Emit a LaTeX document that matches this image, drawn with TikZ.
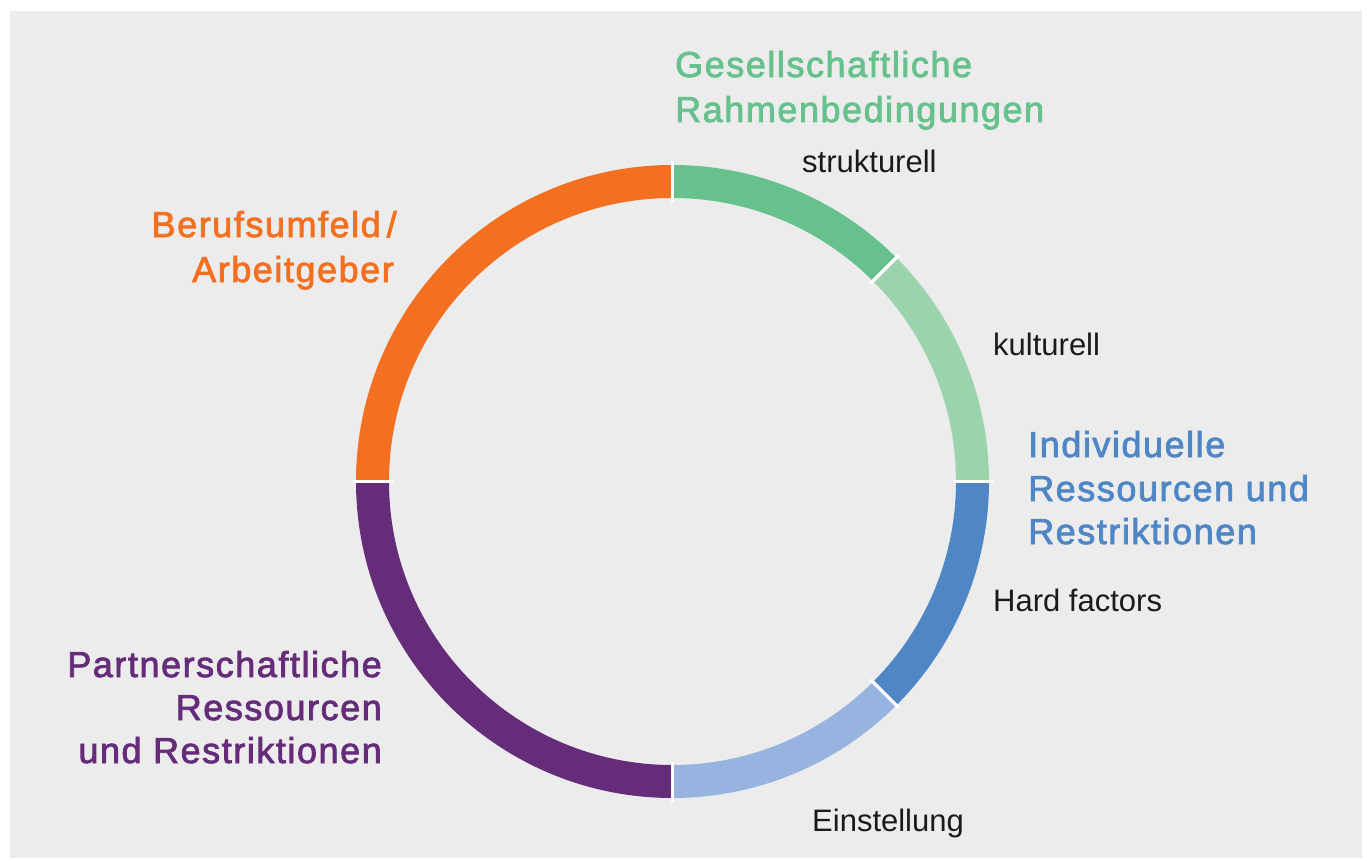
\documentclass[tikz,border=0pt]{standalone}
\usepackage{fontspec}
\usetikzlibrary{calc}
\setmainfont{Liberation Sans}
\newfontfamily\titlefont{Liberation Sans}[LetterSpace=4.3, FakeBold=2.2]
\definecolor{bg}{HTML}{ECECEC}
\definecolor{cor}{HTML}{F37021}
\definecolor{cgreen}{HTML}{66C18C}
\definecolor{clgreen}{HTML}{9AD3AC}
\definecolor{cblue}{HTML}{4F87C6}
\definecolor{clblue}{HTML}{97B3DF}
\definecolor{cpurple}{HTML}{652C7A}
\definecolor{ctext}{HTML}{1A1A1A}
\tikzset{
  seg/.style={line width=33pt},
  gap/.style={draw=white, line width=3.5pt},
  title/.style={inner sep=0pt, font=\titlefont\fontsize{36}{44}\selectfont},
  small/.style={inner sep=0pt, text=ctext, font=\fontsize{31}{38}\selectfont},
}
\begin{document}
\begin{tikzpicture}[x=1pt,y=1pt]
\useasboundingbox (0,0) rectangle (1367,-861);
\fill[white] (0,0) rectangle (1367,-861);
\fill[bg] (10,-11) rectangle (1362,-858);
\coordinate (c) at (672.5,-481.5);
% ring segments
\draw[seg, cgreen]  ($(c)+(90:300)$)  arc[start angle=90,  end angle=45,   radius=300];
\draw[seg, clgreen] ($(c)+(45:300)$)  arc[start angle=45,  end angle=0,    radius=300];
\draw[seg, cblue]   ($(c)+(0:300)$)   arc[start angle=0,   end angle=-45,  radius=300];
\draw[seg, clblue]  ($(c)+(-45:300)$) arc[start angle=-45, end angle=-90,  radius=300];
\draw[seg, cpurple] ($(c)+(-90:300)$) arc[start angle=-90, end angle=-180, radius=300];
\draw[seg, cor]     ($(c)+(180:300)$) arc[start angle=180, end angle=90,   radius=300];
% white separators
\foreach \a in {90,45,0,-45,-90,180}
  \draw[gap] ($(c)+(\a:280)$) -- ($(c)+(\a:320)$);
% titles
\node[title, text=cgreen, anchor=base west] (g1) at (675,-77) {Gesellschaftliche};
\node[title, text=cgreen, anchor=base west] (g2) at (675,-122) {Rahmenbedingungen};
\node[title, text=cor, anchor=base east] (b1) at (397,-237) {Berufsumfeld\,/};
\node[title, text=cor, anchor=base east] (b2) at (394,-282) {Arbeitgeber};
\node[title, text=cblue, anchor=base west] (i1) at (1028,-457) {Individuelle};
\node[title, text=cblue, anchor=base west] (i2) at (1028,-501) {Ressourcen und};
\node[title, text=cblue, anchor=base west] (i3) at (1028,-544) {Restriktionen};
\node[title, text=cpurple, anchor=base east] (p1) at (382,-677) {Partnerschaftliche};
\node[title, text=cpurple, anchor=base east] (p2) at (382,-720) {Ressourcen};
\node[title, text=cpurple, anchor=base east] (p3) at (382,-763) {und Restriktionen};
% small labels
\node[small, anchor=base west] (s1) at (802,-173) {strukturell};
\node[small, anchor=base west] (s2) at (993,-355) {kulturell};
\node[small, anchor=base west] (s3) at (993,-611) {Hard factors};
\node[small, anchor=base west] (s4) at (812,-831) {Einstellung};
\end{tikzpicture}
\end{document}
